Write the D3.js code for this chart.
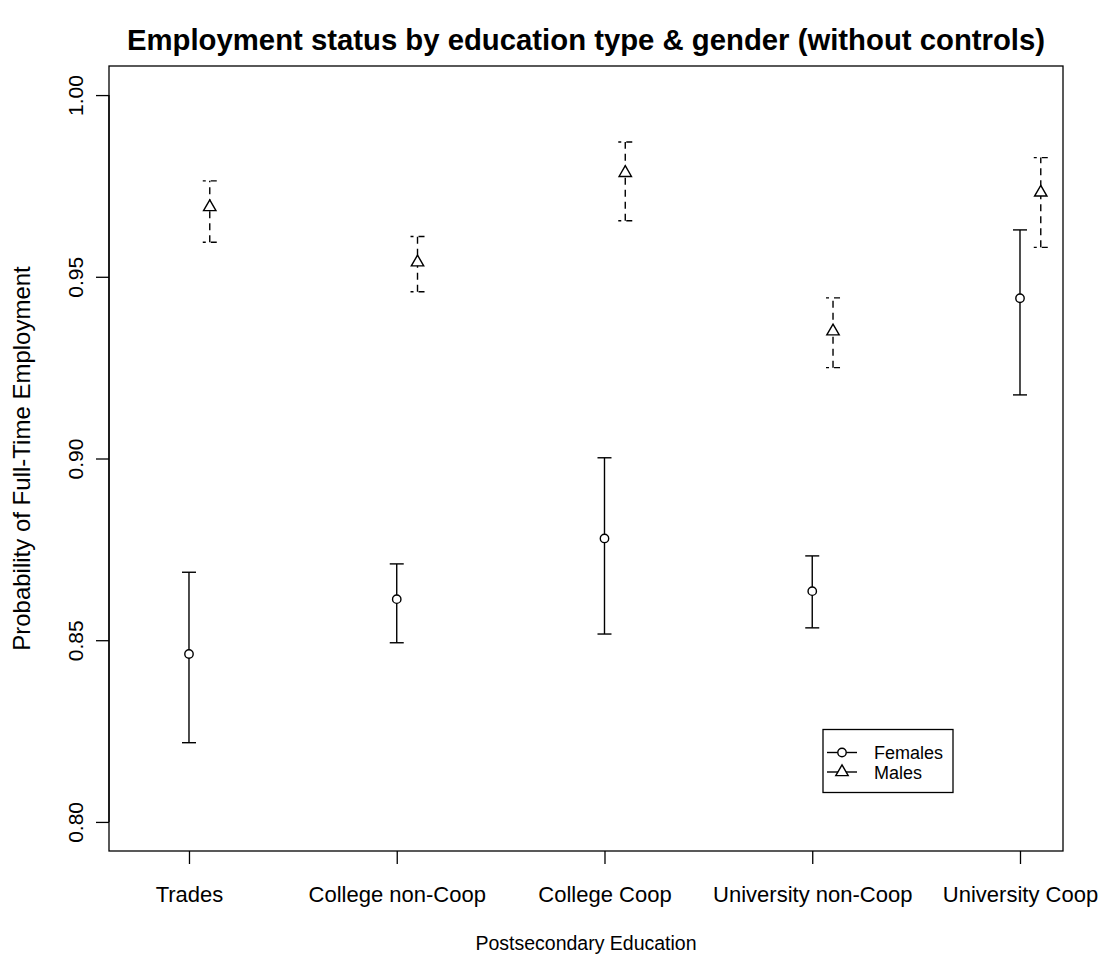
<!DOCTYPE html>
<html>
<head>
<meta charset="utf-8">
<script src="https://cdn.jsdelivr.net/npm/d3@7/dist/d3.min.js"></script>
<style>
  html, body { margin: 0; padding: 0; background: #fff; }
  svg { display: block; font-family: "Liberation Sans", Arial, Helvetica, sans-serif; }
</style>
</head>
<body>
<svg id="chart" width="1109" height="966"></svg>
<script>
// Education categories along the x axis
const categories = ["Trades", "College non-Coop", "College Coop", "University non-Coop", "University Coop"];

// Predicted probability of full-time employment with confidence bounds
const femaleEst   = [0.8462, 0.8613, 0.8780, 0.8635, 0.9441];
const femaleUpper = [0.8687, 0.8710, 0.9002, 0.8732, 0.9629];
const femaleLower = [0.8218, 0.8493, 0.8517, 0.8534, 0.9175];

const maleEst   = [0.9692, 0.9540, 0.9786, 0.9350, 0.9732];
const maleUpper = [0.9764, 0.9611, 0.9871, 0.9442, 0.9828];
const maleLower = [0.9595, 0.9459, 0.9654, 0.9250, 0.9581];

const yTicks = [0.80, 0.85, 0.90, 0.95, 1.00];
const seriesNames = ["Females", "Males"];
const maleOffset = 0.1;

const svg = d3.select("#chart");
const box = { left: 109, right: 1063, top: 66, bottom: 851 };

const x = d3.scaleLinear().domain([0.615, 5.207]).range([box.left, box.right]);
const y = d3.scaleLinear().domain([0.792, 1.008]).range([box.bottom, box.top]);

// Title
svg.append("text")
  .attr("x", (box.left + box.right) / 2)
  .attr("y", 50)
  .attr("text-anchor", "middle")
  .attr("font-weight", "bold")
  .attr("font-size", 29.3)
  .text("Employment status by education type & gender (without controls)");

// Plot frame
svg.append("rect")
  .attr("x", box.left).attr("y", box.top)
  .attr("width", box.right - box.left).attr("height", box.bottom - box.top)
  .attr("fill", "none").attr("stroke", "#000").attr("stroke-width", 1.3);

// Y axis
const yAxis = d3.axisLeft(y).tickValues(yTicks).tickSize(13).tickFormat(d3.format(".2f"));
const gy = svg.append("g").attr("transform", `translate(${box.left},0)`).call(yAxis);
gy.attr("font-family", null);
gy.select(".domain").attr("d", `M0,${y(0.80)}V${y(1.00)}`).attr("stroke-width", 1.3);
gy.selectAll(".tick line").attr("stroke-width", 1.3);
gy.selectAll(".tick text")
  .attr("x", null).attr("dy", null)
  .attr("transform", "translate(-26,0) rotate(-90)")
  .attr("text-anchor", "middle")
  .attr("font-size", 21)
  .attr("fill", "#000");

// X axis with category ticks
const xAxis = d3.axisBottom(x).tickValues(d3.range(1, categories.length + 1))
  .tickSize(13).tickFormat(d => categories[d - 1]);
const gx = svg.append("g").attr("transform", `translate(0,${box.bottom})`).call(xAxis);
gx.attr("font-family", null);
gx.select(".domain").remove();
gx.selectAll(".tick line").attr("stroke-width", 1.3);
gx.selectAll(".tick text")
  .attr("y", 51).attr("dy", null)
  .attr("font-size", 22)
  .attr("fill", "#000");

// Axis titles
svg.append("text")
  .attr("x", (box.left + box.right) / 2)
  .attr("y", 950)
  .attr("text-anchor", "middle")
  .attr("font-size", 19.5)
  .text("Postsecondary Education");

svg.append("text")
  .attr("transform", `translate(30,${(box.top + box.bottom) / 2}) rotate(-90)`)
  .attr("text-anchor", "middle")
  .attr("font-size", 24)
  .text("Probability of Full-Time Employment");

// Error bars with end caps and point markers
const capHalf = 7;
function drawSeries(est, lower, upper, offset, dashed, markerFn) {
  const g = svg.append("g");
  const data = categories.map((c, i) => ({ xi: i + 1 + offset, est: est[i], lo: lower[i], hi: upper[i] }));
  g.selectAll("line.bar").data(data).join("line")
    .attr("x1", d => x(d.xi)).attr("x2", d => x(d.xi))
    .attr("y1", d => y(d.lo)).attr("y2", d => y(d.hi))
    .attr("stroke", "#000").attr("stroke-width", 1.4)
    .attr("stroke-dasharray", dashed ? "7,5" : null);
  ["lo", "hi"].forEach(k => {
    g.selectAll("line.cap-" + k).data(data).join("line")
      .attr("x1", d => x(d.xi) - capHalf).attr("x2", d => x(d.xi) + capHalf)
      .attr("y1", d => y(d[k])).attr("y2", d => y(d[k]))
      .attr("stroke", "#000").attr("stroke-width", 1.4)
      .attr("stroke-dasharray", dashed ? "3,5,7" : null);
  });
  data.forEach(d => markerFn(g, x(d.xi), y(d.est)));
}

function circleMarker(g, cx, cy) {
  g.append("circle").attr("cx", cx).attr("cy", cy).attr("r", 4.2)
    .attr("fill", "#fff").attr("stroke", "#000").attr("stroke-width", 1.4);
}
function triangleMarker(g, cx, cy) {
  const u = 4.6;
  const pts = [[cx, cy - 1.555 * u], [cx + 1.347 * u, cy + 0.778 * u], [cx - 1.347 * u, cy + 0.778 * u]];
  g.append("path").attr("d", "M" + pts.map(p => p.join(",")).join("L") + "Z")
    .attr("fill", "#fff").attr("stroke", "#000").attr("stroke-width", 1.4);
}

drawSeries(femaleEst, femaleLower, femaleUpper, 0, false, circleMarker);
drawSeries(maleEst, maleLower, maleUpper, maleOffset, true, triangleMarker);

// Legend
const lg = svg.append("g");
lg.append("rect").attr("x", 823).attr("y", 729.5).attr("width", 130).attr("height", 63)
  .attr("fill", "#fff").attr("stroke", "#000").attr("stroke-width", 1.3);
const markers = [circleMarker, triangleMarker];
seriesNames.forEach((name, i) => {
  const ly = 752.5 + i * 19.5;
  lg.append("line").attr("x1", 827).attr("x2", 857).attr("y1", ly).attr("y2", ly)
    .attr("stroke", "#000").attr("stroke-width", 1.4);
  markers[i](lg, 842, ly);
  lg.append("text").attr("x", 874).attr("y", ly + 6.5).attr("font-size", 18).text(name);
});
</script>
</body>
</html>
